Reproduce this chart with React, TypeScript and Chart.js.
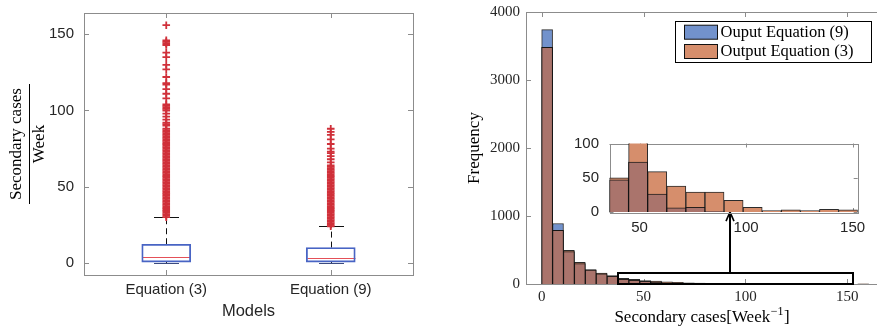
import React, { useEffect, useRef } from 'react';
import { Chart, registerables } from 'chart.js';

Chart.register(...registerables);

// ---------------- Left panel: box plot ----------------
const boxCategories = ['Equation (3)', 'Equation (9)'];
const boxQ1 = [0.5, 0.5];
const boxMedian = [3.5, 3];
const boxQ3 = [12.2, 10];
const whiskerLow = [0, 0];
const whiskerHigh = [30, 24];
const boxYTicks = [0, 50, 100, 150];
const eq3Outliers = [
  30, 31, 32, 33, 34, 35, 36, 37, 38, 39, 40, 41, 42, 43, 44, 45, 46, 47, 48, 49,
  50, 51, 52, 53, 54, 55, 56, 57, 58, 59, 60, 61, 62, 63, 64, 65, 66, 67, 68, 69,
  70, 71, 72, 73, 74, 75, 76, 77, 78, 79, 80, 81, 82, 83, 84, 85, 86, 87, 88, 90,
  91, 92, 94, 96, 98, 100, 101, 102, 103, 104, 108, 111, 114, 117, 118, 122, 127,
  130, 135, 138, 143, 144, 145, 146, 156,
];
const eq9Outliers = [
  24, 25, 26, 27, 28, 29, 30, 31, 32, 33, 34, 35, 36, 37, 38, 39, 40, 41, 42, 43,
  44, 45, 46, 47, 48, 49, 50, 51, 52, 53, 54, 55, 56, 57, 58, 59, 60, 61, 62, 63,
  64, 66, 68, 70, 72, 73, 75, 78, 81, 84, 86, 88,
];

// ---------------- Right panel: histogram ----------------
const histBinStart = 0;
const histBinWidth = 5.35;
const histEq9 = [3740, 890, 475, 300, 205, 150, 112, 70, 55, 38, 25, 15, 8, 5, 3, 2, 1, 0, 0, 0, 0, 0, 0, 0, 0, 0, 0, 0, 0, 0];
const histEq3 = [3480, 790, 495, 320, 212, 162, 125, 85, 70, 52, 42, 32, 24, 18, 14, 11, 9, 7, 5, 4, 3, 2, 2, 1, 1, 1, 2, 1, 0, 1];
const histXTicks = [0, 50, 100, 150];
const histYTicks = [0, 1000, 2000, 3000, 4000];
const legendLabels = ['Ouput Equation (9)', 'Output Equation (3)'];
const zoomBoxX = [37.3, 152.6];
const zoomBoxY = [0, 155];
const arrowX = 92.5;
const arrowY = [155, 1058];

// ---------------- Inset ----------------
const insetBinStart = 35.9;
const insetBinWidth = 8.96;
const insetEq9 = [47, 73, 26, 6, 7, 1, 0, 0, 0, 0, 0, 0, 0];
const insetEq3 = [50, 110, 59, 38, 29, 29, 17, 7, 2, 3, 2, 4, 3];
const insetXTicks = [50, 100, 150];
const insetYTicks = [0, 50, 100];

// ---------------- Styles ----------------
const SANS = "'Liberation Sans', Arial, sans-serif";
const SERIF = "'Liberation Serif', 'Times New Roman', serif";
const TXT = '#262626';
const FRAME = '#8c8c8c';
const BOX_BLUE = 'rgb(72,100,196)';
const MED_RED = 'rgb(228,80,88)';
const OUT_RED = 'rgb(208,48,58)';
const BLUE = 'rgb(114,146,204)';
const ORANGE = 'rgb(214,142,108)';
const BROWN = 'rgb(170,116,108)';
const EDGE = 'rgba(20,20,20,0.9)';

const h = (v: number) => Math.round(v) + 0.5;
const plainLabel = (v: any) => String(v);

function seg(ctx: CanvasRenderingContext2D, x1: number, y1: number, x2: number, y2: number) {
  ctx.beginPath();
  ctx.moveTo(x1, y1);
  ctx.lineTo(x2, y2);
  ctx.stroke();
}

function fixedTicks(values: number[]) {
  return (scale: any) => {
    scale.ticks = values.map((v) => ({ value: v }));
  };
}

function histDatasets(start: number, width: number, eq9: number[], eq3: number[], clip: any) {
  const centers = eq9.map((_, i) => start + (i + 0.5) * width);
  const pts = (arr: number[]) => arr.map((v, i) => ({ x: centers[i], y: v }));
  const overlap = eq9.map((v, i) => Math.min(v, eq3[i]));
  const base = {
    type: 'bar',
    grouped: false,
    borderColor: EDGE,
    borderWidth: 1,
    borderSkipped: 'start',
    barPercentage: 1,
    categoryPercentage: 1,
    clip,
  };
  return [
    { ...base, label: legendLabels[0], data: pts(eq9), backgroundColor: BLUE, order: 3 },
    { ...base, label: legendLabels[1], data: pts(eq3), backgroundColor: ORANGE, order: 2 },
    { ...base, label: 'overlap', data: pts(overlap), backgroundColor: BROWN, order: 1 },
  ];
}

// ---------------- Left chart ----------------
const leftDecor = {
  id: 'leftDecor',
  beforeDatasetsDraw(chart: any) {
    const { ctx, chartArea: a, scales } = chart;
    const x = scales.x;
    const y = scales.y;
    ctx.save();
    ctx.strokeStyle = FRAME;
    ctx.lineWidth = 1;
    ctx.strokeRect(h(a.left), h(a.top), Math.round(a.right - a.left), Math.round(a.bottom - a.top));
    boxYTicks.forEach((v) => {
      const py = h(y.getPixelForValue(v));
      seg(ctx, a.left, py, a.left + 5, py);
      seg(ctx, a.right, py, a.right - 5, py);
    });
    boxCategories.forEach((_, i) => {
      const px = h(x.getPixelForValue(i));
      seg(ctx, px, a.bottom, px, a.bottom - 5);
      seg(ctx, px, a.top, px, a.top + 5);
    });
    boxCategories.forEach((_, i) => {
      const cx = h(x.getPixelForValue(i));
      const yq1 = y.getPixelForValue(boxQ1[i]);
      const yq3 = y.getPixelForValue(boxQ3[i]);
      const yhi = h(y.getPixelForValue(whiskerHigh[i]));
      const ylo = h(y.getPixelForValue(whiskerLow[i]));
      ctx.strokeStyle = '#111';
      ctx.lineWidth = 1;
      ctx.setLineDash([6, 4]);
      seg(ctx, cx, yq3, cx, yhi);
      seg(ctx, cx, yq1, cx, ylo);
      ctx.setLineDash([]);
      seg(ctx, cx - 12.5, yhi, cx + 12.5, yhi);
      ctx.strokeStyle = '#3a4a80';
      seg(ctx, cx - 12.5, ylo, cx + 12.5, ylo);
      ctx.strokeStyle = MED_RED;
      const ym = h(y.getPixelForValue(boxMedian[i]));
      seg(ctx, cx - 24, ym, cx + 24, ym);
    });
    ctx.restore();
  },
  afterDraw(chart: any) {
    const { ctx, chartArea: a } = chart;
    ctx.save();
    ctx.fillStyle = TXT;
    ctx.textAlign = 'center';
    ctx.textBaseline = 'middle';
    ctx.font = `16.5px ${SANS}`;
    ctx.fillText('Models', (a.left + a.right) / 2, 311.5);
    ctx.fillStyle = '#000';
    ctx.font = `17px ${SERIF}`;
    const cy = 144;
    ctx.save();
    ctx.translate(17, cy);
    ctx.rotate(-Math.PI / 2);
    ctx.fillText('Secondary cases', 0, 0);
    ctx.restore();
    ctx.strokeStyle = '#000';
    ctx.lineWidth = 1;
    seg(ctx, 29.5, 84, 29.5, 204);
    ctx.save();
    ctx.translate(40, cy);
    ctx.rotate(-Math.PI / 2);
    ctx.fillText('Week', 0, 0);
    ctx.restore();
    ctx.restore();
  },
};

function leftConfig(): any {
  return {
    type: 'bar',
    data: {
      labels: boxCategories,
      datasets: [
        {
          type: 'bar',
          data: boxCategories.map((_, i) => [boxQ1[i], boxQ3[i]]),
          backgroundColor: 'rgba(0,0,0,0)',
          borderColor: BOX_BLUE,
          borderWidth: 1.2,
          borderSkipped: false,
          barThickness: 49,
          order: 2,
        },
        {
          type: 'line',
          data: [
            ...eq3Outliers.map((v) => ({ x: boxCategories[0], y: v })),
            ...eq9Outliers.map((v) => ({ x: boxCategories[1], y: v })),
          ],
          showLine: false,
          pointStyle: 'cross',
          pointRadius: 3.8,
          pointBorderWidth: 1.8,
          pointBorderColor: OUT_RED,
          pointBackgroundColor: OUT_RED,
          order: 1,
        },
      ],
    },
    options: {
      responsive: false,
      animation: false,
      events: [],
      layout: { padding: { left: 0, right: 27, top: 13, bottom: 0 } },
      plugins: { legend: { display: false }, tooltip: { enabled: false } },
      scales: {
        x: {
          type: 'category',
          offset: true,
          grid: { display: false, drawTicks: false },
          border: { display: false },
          ticks: { font: { family: SANS, size: 15 }, color: TXT, padding: 6, maxRotation: 0 },
          afterFit: (s: any) => {
            s.height = 54;
            s.paddingLeft = 0;
            s.paddingRight = 0;
          },
        },
        y: {
          type: 'linear',
          min: -8,
          max: 164,
          grid: { display: false, drawTicks: false },
          border: { display: false },
          ticks: { font: { family: SANS, size: 15 }, color: TXT, padding: 10, callback: plainLabel },
          afterBuildTicks: fixedTicks(boxYTicks),
          afterFit: (s: any) => {
            s.width = 84;
            s.paddingTop = 0;
            s.paddingBottom = 0;
          },
        },
      },
    },
    plugins: [leftDecor],
  };
}

// ---------------- Right chart ----------------
const rightDecor = {
  id: 'rightDecor',
  beforeDatasetsDraw(chart: any) {
    const { ctx, chartArea: a, scales } = chart;
    const x = scales.x;
    const y = scales.y;
    ctx.save();
    ctx.strokeStyle = FRAME;
    ctx.lineWidth = 1;
    seg(ctx, h(a.left), a.top, h(a.left), a.bottom);
    seg(ctx, a.left, h(a.top), chart.width, h(a.top));
    seg(ctx, a.left, h(a.bottom), chart.width, h(a.bottom));
    histYTicks.forEach((v) => {
      const py = h(y.getPixelForValue(v));
      seg(ctx, a.left, py, a.left + 5, py);
    });
    histXTicks.forEach((v) => {
      const px = h(x.getPixelForValue(v));
      seg(ctx, px, a.top, px, a.top + 5);
      seg(ctx, px, a.bottom, px, a.bottom - 5);
    });
    ctx.restore();
  },
  afterDraw(chart: any) {
    const { ctx, scales } = chart;
    const x = scales.x;
    const y = scales.y;
    ctx.save();
    ctx.strokeStyle = '#000';
    ctx.lineWidth = 2;
    const rx1 = Math.round(x.getPixelForValue(zoomBoxX[0]));
    const rx2 = Math.round(x.getPixelForValue(zoomBoxX[1]));
    const ry1 = Math.round(y.getPixelForValue(zoomBoxY[1]));
    const ry2 = Math.round(y.getPixelForValue(zoomBoxY[0]));
    ctx.strokeRect(rx1, ry1, rx2 - rx1, ry2 - ry1);
    const ax = Math.round(x.getPixelForValue(arrowX));
    const ay1 = y.getPixelForValue(arrowY[0]);
    const ay2 = y.getPixelForValue(arrowY[1]);
    seg(ctx, ax, ay1, ax, ay2 + 1);
    ctx.lineWidth = 1.6;
    ctx.beginPath();
    ctx.moveTo(ax - 4, ay2 + 9);
    ctx.lineTo(ax, ay2);
    ctx.lineTo(ax + 4, ay2 + 9);
    ctx.stroke();

    ctx.lineWidth = 1;
    ctx.fillStyle = '#fff';
    ctx.fillRect(235, 21, 197, 42);
    ctx.strokeStyle = '#000';
    ctx.strokeRect(235.5, 21.5, 196, 41);
    const sw = [BLUE, ORANGE];
    const rows = [32.2, 51.5];
    ctx.font = `16.5px ${SERIF}`;
    ctx.textAlign = 'left';
    ctx.textBaseline = 'middle';
    rows.forEach((ry, i) => {
      ctx.fillStyle = sw[i];
      ctx.fillRect(244.5, ry - 7, 33, 14);
      ctx.strokeStyle = '#111';
      ctx.strokeRect(244.5, ry - 7, 33, 14);
      ctx.fillStyle = '#000';
      ctx.fillText(legendLabels[i], 280.5, ry + 0.5);
    });

    ctx.fillStyle = '#000';
    ctx.textAlign = 'center';
    ctx.font = `17px ${SERIF}`;
    ctx.save();
    ctx.translate(35, 148);
    ctx.rotate(-Math.PI / 2);
    ctx.fillText('Frequency', 0, 0);
    ctx.restore();

    const partA = 'Secondary cases[Week';
    const sup = '\u22121';
    const partB = ']';
    ctx.font = `17px ${SERIF}`;
    const wA = ctx.measureText(partA).width;
    const wB = ctx.measureText(partB).width;
    ctx.font = `12px ${SERIF}`;
    const wS = ctx.measureText(sup).width;
    let sx = 262 - (wA + wS + wB + 1) / 2;
    ctx.textAlign = 'left';
    ctx.font = `17px ${SERIF}`;
    ctx.fillText(partA, sx, 318);
    sx += wA + 0.5;
    ctx.font = `12px ${SERIF}`;
    ctx.fillText(sup, sx, 312);
    sx += wS + 0.5;
    ctx.font = `17px ${SERIF}`;
    ctx.fillText(partB, sx, 318);
    ctx.restore();
  },
};

function rightConfig(): any {
  return {
    type: 'bar',
    data: { datasets: histDatasets(histBinStart, histBinWidth, histEq9, histEq3, false) },
    options: {
      responsive: false,
      animation: false,
      events: [],
      layout: { padding: { left: 0, right: 0, top: 12, bottom: 0 } },
      plugins: { legend: { display: false }, tooltip: { enabled: false } },
      scales: {
        x: {
          type: 'linear',
          offset: false,
          min: -7.7,
          max: 164.6,
          grid: { display: false, drawTicks: false },
          border: { display: false },
          ticks: { font: { family: SERIF, size: 15 }, color: TXT, padding: 4, maxRotation: 0, callback: plainLabel },
          afterBuildTicks: fixedTicks(histXTicks),
          afterFit: (s: any) => {
            s.height = 45;
            s.paddingLeft = 0;
            s.paddingRight = 0;
          },
        },
        y: {
          type: 'linear',
          min: 0,
          max: 4000,
          grid: { display: false, drawTicks: false },
          border: { display: false },
          ticks: { font: { family: SERIF, size: 15 }, color: TXT, padding: 6, callback: plainLabel },
          afterBuildTicks: fixedTicks(histYTicks),
          afterFit: (s: any) => {
            s.width = 86;
            s.paddingTop = 0;
            s.paddingBottom = 0;
          },
        },
      },
    },
    plugins: [rightDecor],
  };
}

// ---------------- Inset chart ----------------
const insetDecor = {
  id: 'insetDecor',
  beforeDatasetsDraw(chart: any) {
    const { ctx, chartArea: a, scales } = chart;
    const x = scales.x;
    const y = scales.y;
    ctx.save();
    ctx.fillStyle = '#fff';
    ctx.fillRect(a.left, a.top, a.right - a.left, a.bottom - a.top);
    ctx.strokeStyle = FRAME;
    ctx.lineWidth = 1;
    ctx.strokeRect(h(a.left), h(a.top), Math.round(a.right - a.left), Math.round(a.bottom - a.top));
    insetYTicks.forEach((v) => {
      const py = h(y.getPixelForValue(v));
      seg(ctx, a.left, py, a.left + 4, py);
      seg(ctx, a.right, py, a.right - 4, py);
    });
    insetXTicks.forEach((v) => {
      const px = h(x.getPixelForValue(v));
      seg(ctx, px, a.top, px, a.top + 4);
      seg(ctx, px, a.bottom, px, a.bottom - 4);
    });
    ctx.restore();
  },
};

function insetConfig(): any {
  return {
    type: 'bar',
    data: { datasets: histDatasets(insetBinStart, insetBinWidth, insetEq9, insetEq3, 0) },
    options: {
      responsive: false,
      animation: false,
      events: [],
      layout: { padding: { left: 0, right: 12.3, top: 10.5, bottom: 0 } },
      plugins: { legend: { display: false }, tooltip: { enabled: false } },
      scales: {
        x: {
          type: 'linear',
          offset: false,
          min: 35.9,
          max: 152.4,
          grid: { display: false, drawTicks: false },
          border: { display: false },
          ticks: { font: { family: SANS, size: 15 }, color: TXT, padding: 6.5, maxRotation: 0, callback: plainLabel },
          afterBuildTicks: fixedTicks(insetXTicks),
          afterFit: (s: any) => {
            s.height = 28;
            s.paddingLeft = 0;
            s.paddingRight = 0;
          },
        },
        y: {
          type: 'linear',
          min: 0,
          max: 100,
          grid: { display: false, drawTicks: false },
          border: { display: false },
          ticks: { font: { family: SANS, size: 15 }, color: TXT, padding: 10.5, callback: plainLabel },
          afterBuildTicks: fixedTicks(insetYTicks),
          afterFit: (s: any) => {
            s.width = 49.5;
            s.paddingTop = 0;
            s.paddingBottom = 0;
          },
        },
      },
    },
    plugins: [insetDecor],
  };
}

export default function App() {
  const leftRef = useRef<HTMLCanvasElement>(null);
  const rightRef = useRef<HTMLCanvasElement>(null);
  const insetRef = useRef<HTMLCanvasElement>(null);

  useEffect(() => {
    const charts: Chart[] = [];
    if (leftRef.current) charts.push(new Chart(leftRef.current, leftConfig()));
    if (rightRef.current) charts.push(new Chart(rightRef.current, rightConfig()));
    if (insetRef.current) charts.push(new Chart(insetRef.current, insetConfig()));
    return () => charts.forEach((c) => c.destroy());
  }, []);

  return (
    <div style={{ position: 'absolute', left: 0, top: 0, width: 877, height: 329, background: '#fff', overflow: 'hidden' }}>
      <canvas ref={leftRef} width={440} height={329} style={{ position: 'absolute', left: 0, top: 0, width: 440, height: 329 }} />
      <canvas ref={rightRef} width={437} height={329} style={{ position: 'absolute', left: 440, top: 0, width: 437, height: 329 }} />
      <canvas ref={insetRef} width={310} height={107} style={{ position: 'absolute', left: 560, top: 133, width: 310, height: 107 }} />
    </div>
  );
}
